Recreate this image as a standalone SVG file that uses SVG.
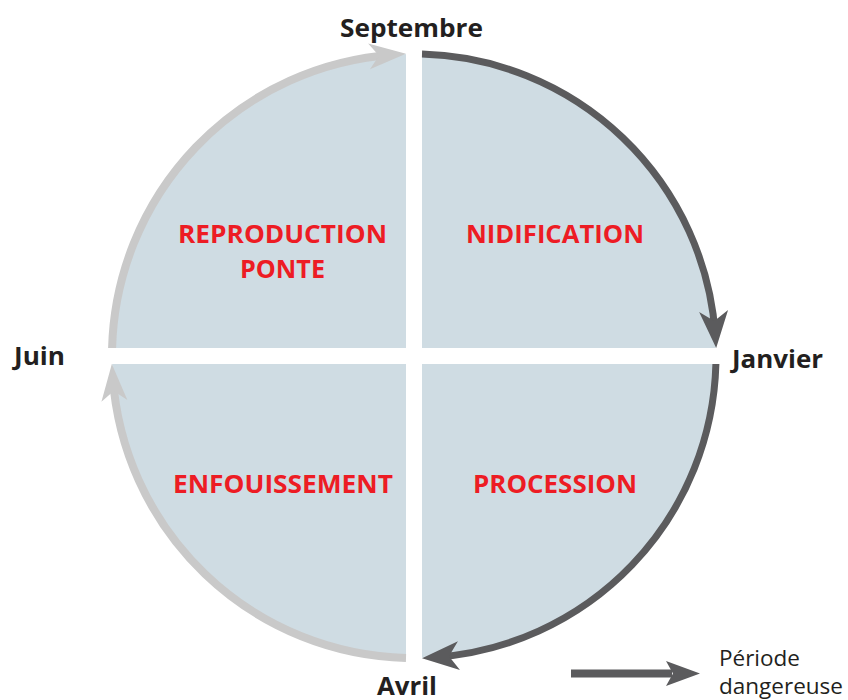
<svg xmlns="http://www.w3.org/2000/svg" width="848" height="700" viewBox="0 0 848 700">
<style>
.lbl{font-family:"Open Sans","Liberation Sans",sans-serif;font-weight:bold;font-size:25px;fill:#231f20}
.phase{font-family:"Open Sans","Liberation Sans",sans-serif;font-weight:bold;font-size:25px;fill:#ed1c24}
.leg{font-family:"Open Sans","Liberation Sans",sans-serif;font-size:22px;fill:#231f20}
.dark{fill:none;stroke:#5b5b5d;stroke-width:7}
.light{fill:none;stroke:#c9c9c9;stroke-width:8}
</style>
<defs>
<marker id="hd" markerUnits="userSpaceOnUse" orient="auto" markerWidth="44" markerHeight="34" viewBox="0 -17 44 34" refX="24" refY="0">
<path d="M0,-14.5 L37,0 L0,14.5 L10,0 Z" fill="#5b5b5d"/>
</marker>
<marker id="hl" markerUnits="userSpaceOnUse" orient="auto" markerWidth="44" markerHeight="34" viewBox="0 -17 44 34" refX="24" refY="0">
<path d="M0,-13 L37,0 L0,13 L10,0 Z" fill="#c9c9c9"/>
</marker>
</defs>
<g id="cycle">
<circle cx="414" cy="356" r="302" fill="#cfdce3"/>
<rect x="406" y="40" width="16" height="630" fill="#ffffff"/>
<rect x="100" y="348" width="630" height="16" fill="#ffffff"/>
</g>
<g id="connectors">
<path class="dark" d="M422,54.1 A302,302 0 0 1 715.27,334.98" marker-end="url(#hd)"/>
<path class="dark" d="M715.9,364 A302,302 0 0 1 435,657.27" marker-end="url(#hd)"/>
<path class="light" d="M406,657.9 A302,302 0 0 1 112.73,377.02" marker-end="url(#hl)"/>
<path class="light" d="M112.1,348 A302,302 0 0 1 392.98,54.73" marker-end="url(#hl)"/>
</g>
<g id="septembre"><text class="lbl" x="340" y="37" textLength="143" lengthAdjust="spacingAndGlyphs">Septembre</text></g>
<g id="janvier"><text class="lbl" x="732" y="368" textLength="91" lengthAdjust="spacingAndGlyphs">Janvier</text></g>
<g id="juin"><text class="lbl" x="14" y="365" textLength="51" lengthAdjust="spacingAndGlyphs">Juin</text></g>
<g id="avril"><text class="lbl" x="377" y="695" textLength="60" lengthAdjust="spacingAndGlyphs">Avril</text></g>
<g id="reproduction">
<text class="phase" x="178" y="243" textLength="209" lengthAdjust="spacingAndGlyphs">REPRODUCTION</text>
<text class="phase" x="240" y="278" textLength="85" lengthAdjust="spacingAndGlyphs">PONTE</text>
</g>
<g id="nidification"><text class="phase" x="466" y="243" textLength="178" lengthAdjust="spacingAndGlyphs">NIDIFICATION</text></g>
<g id="enfouissement"><text class="phase" x="173" y="493" textLength="220" lengthAdjust="spacingAndGlyphs">ENFOUISSEMENT</text></g>
<g id="procession"><text class="phase" x="473" y="493" textLength="164" lengthAdjust="spacingAndGlyphs">PROCESSION</text></g>
<g id="legend">
<line x1="571" y1="673.5" x2="672" y2="673.5" stroke="#5b5b5d" stroke-width="8"/>
<path d="M666,661 L700,673.5 L666,686 L673,673.5 Z" fill="#5b5b5d"/>
<text class="leg" x="719" y="666" textLength="81" lengthAdjust="spacingAndGlyphs">Période</text>
<text class="leg" x="719" y="694" textLength="124" lengthAdjust="spacingAndGlyphs">dangereuse</text>
</g>
</svg>
